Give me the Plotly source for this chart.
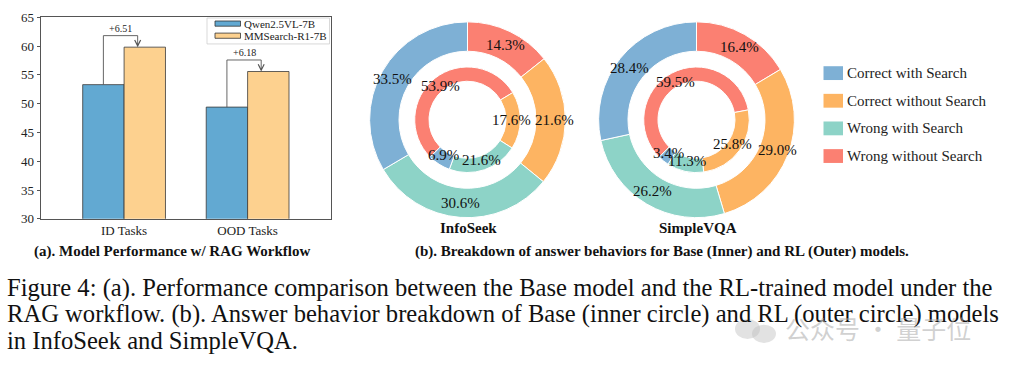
import math
import plotly.graph_objects as go

W, H = 1011, 372

# ---------------- data ----------------
bar_categories = ["ID Tasks", "OOD Tasks"]
bar_series = ["Qwen2.5VL-7B", "MMSearch-R1-7B"]
qwen_scores = [53.30, 49.40]
mmsearch_scores = [59.81, 55.58]
y_ticks = [30, 35, 40, 45, 50, 55, 60, 65]

behaviors = ["Correct with Search", "Correct without Search",
             "Wrong with Search", "Wrong without Search"]
infoseek_base = [6.9, 17.6, 21.6, 53.9]
infoseek_rl = [33.5, 21.6, 30.6, 14.3]
simplevqa_base = [3.4, 25.8, 11.3, 59.5]
simplevqa_rl = [28.4, 29.0, 26.2, 16.4]
datasets = ["InfoSeek", "SimpleVQA"]

caption_lines = [
    "Figure 4: (a). Performance comparison between the Base model and the RL-trained model under the",
    "RAG workflow. (b). Answer behavior breakdown of Base (inner circle) and RL (outer circle) models",
    "in InfoSeek and SimpleVQA.",
]

# ---------------- style ----------------
FONT = "Liberation Serif, Times New Roman, serif"
bar_colors = ["#62A9D2", "#FDD18F"]
pie_colors = ["#7EB0D5", "#FDB462", "#8DD3C7", "#FB8072"]
slice_order = [3, 1, 2, 0]  # clockwise from start angle


def px(x):
    return x / W


def py(y):
    return 1 - y / H


def txt(x, y, text, size, xanchor="center", yanchor="middle", color="#111", family=FONT):
    return dict(x=px(x), y=py(y), xref="paper", yref="paper", text=text,
                showarrow=False, xanchor=xanchor, yanchor=yanchor,
                font=dict(family=family, size=size, color=color))


fig = go.Figure()

# ---------------- bar chart ----------------
for name, vals, col in zip(bar_series, [qwen_scores, mmsearch_scores], bar_colors):
    fig.add_trace(go.Bar(
        x=bar_categories, y=vals, name=name, base=0,
        marker=dict(color=col, line=dict(color="#3a3a3a", width=0.8)),
        showlegend=False, xaxis="x", yaxis="y"))

shapes = []
annotations = []

half = 0.335 / 2
for i, (b, o) in enumerate(zip(qwen_scores, mmsearch_scores)):
    ybr = o + 2.0
    xl = i - half
    xr = i + 0.11
    shapes.append(dict(type="path", xref="x", yref="y",
                       path=f"M {xl},{b} L {xl},{ybr} L {xr},{ybr} L {xr},{o + 0.35}",
                       line=dict(color="#555555", width=0.9)))
    annotations.append(dict(x=xr, y=o, ax=xr, ay=o + 0.9, xref="x", yref="y",
                            axref="x", ayref="y", text="", showarrow=True,
                            arrowhead=5, arrowsize=1.3, arrowwidth=0.9,
                            arrowcolor="#555555"))
    annotations.append(dict(x=(xl + xr) / 2, y=ybr, xref="x", yref="y",
                            text=f"+{o - b:.2f}", showarrow=False,
                            xanchor="center", yanchor="bottom",
                            font=dict(family=FONT, size=10, color="#222")))

# bar legend (framed box, top-right of the axes)
shapes.append(dict(type="rect", xref="paper", yref="paper",
                   x0=px(207), x1=px(329.5), y0=py(38.5), y1=py(11.5),
                   line=dict(color="#cfcfcf", width=0.8)))
for k, (name, col) in enumerate(zip(bar_series, bar_colors)):
    yc = 17.3 + k * 12.6
    shapes.append(dict(type="rect", xref="paper", yref="paper",
                       x0=px(215), x1=px(240.5), y0=py(yc + 2.7), y1=py(yc - 2.7),
                       fillcolor=col, line=dict(color="#333", width=0.8)))
    annotations.append(txt(241.5, yc, name, 11, xanchor="left", color="#222"))

# ---------------- donuts ----------------
centers = [(467.5, 117.5), (696.5, 117.5)]
R_out, R_in = 102.0, 55.0
hole_out, hole_in = 0.70, 0.73
rot_out, rot_in = 0, 225

for (cx, cy), base, rl in zip(centers, [infoseek_base, simplevqa_base],
                              [infoseek_rl, simplevqa_rl]):
    for vals, R, hole, rot, frac in [(rl, R_out, hole_out, rot_out, 0.85),
                                     (base, R_in, hole_in, rot_in, 0.80)]:
        labs = [behaviors[j] for j in slice_order]
        v = [vals[j] for j in slice_order]
        cols = [pie_colors[j] for j in slice_order]
        fig.add_trace(go.Pie(
            labels=labs, values=v, sort=False, direction="clockwise",
            rotation=rot, hole=hole, textinfo="none", showlegend=False,
            marker=dict(colors=cols, line=dict(color="white", width=1)),
            domain=dict(x=[px(cx - R), px(cx + R)], y=[py(cy + R), py(cy - R)])))
        # percentage labels at slice mid-angles
        tot = sum(v)
        ang = rot
        for val in v:
            span = 360 * val / tot
            mid = math.radians(ang + span / 2)
            ang += span
            lx = cx + frac * R * math.sin(mid)
            ly = cy - frac * R * math.cos(mid)
            annotations.append(txt(lx, ly, f"{val:.1f}%", 15))

for (cx, cy), name in zip(centers, datasets):
    annotations.append(txt(cx + 1, 230, f"<b>{name}</b>", 15))

# donut legend
for k, (name, col) in enumerate(zip(behaviors, pie_colors)):
    yc = 68.9 + k * 28.8
    shapes.append(dict(type="rect", xref="paper", yref="paper",
                       x0=px(823.5), x1=px(843), y0=py(yc + 7.2), y1=py(yc - 7.2),
                       fillcolor=col, line=dict(width=0)))
    annotations.append(txt(844.5, yc, name, 15, xanchor="left", color="#222"))

# subtitles
annotations.append(txt(172, 255, "<b>(a). Model Performance w/ RAG Workflow</b>", 15))
annotations.append(txt(661.5, 255,
                       "<b>(b). Breakdown of answer behaviors for Base (Inner) and RL (Outer) models.</b>",
                       15))

# caption
for k, line in enumerate(caption_lines):
    annotations.append(txt(4.5, 292.5 + 27.4 * k, line, 24.6, xanchor="left"))

# watermark
shapes.append(dict(type="circle", xref="paper", yref="paper",
                   x0=px(735), x1=px(760), y0=py(346), y1=py(325),
                   fillcolor="rgba(190,190,190,0.45)", line=dict(width=0)))
shapes.append(dict(type="circle", xref="paper", yref="paper",
                   x0=px(752), x1=px(776), y0=py(350), y1=py(331),
                   fillcolor="rgba(190,190,190,0.45)", line=dict(width=0)))
annotations.append(txt(783, 335, "公众号 · 量子位", 25, xanchor="left",
                       color="rgba(170,170,170,0.55)", family="Noto Sans CJK SC"))

fig.update_layout(
    width=W, height=H, margin=dict(l=0, r=0, t=0, b=0),
    paper_bgcolor="white", plot_bgcolor="white",
    barmode="group", bargap=0.33, bargroupgap=0,
    font=dict(family=FONT, size=13, color="#222"),
    xaxis=dict(domain=[px(40.7), px(331)], range=[-0.675, 1.675],
               showline=True, mirror=True, linecolor="#555", linewidth=1,
               ticks="", showgrid=False, zeroline=False,
               tickfont=dict(family=FONT, size=13, color="#222")),
    yaxis=dict(domain=[py(220.7), py(10.7)], range=[30, 65], tickvals=y_ticks,
               showline=True, mirror=True, linecolor="#555", linewidth=1,
               ticks="outside", ticklen=3, tickcolor="#555",
               showgrid=False, zeroline=False,
               tickfont=dict(family=FONT, size=13, color="#222")),
    shapes=shapes, annotations=annotations,
)

fig.write_html("out.html", config={"displayModeBar": False},
               post_script="document.body.style.margin='0';document.body.style.overflow='hidden';")
